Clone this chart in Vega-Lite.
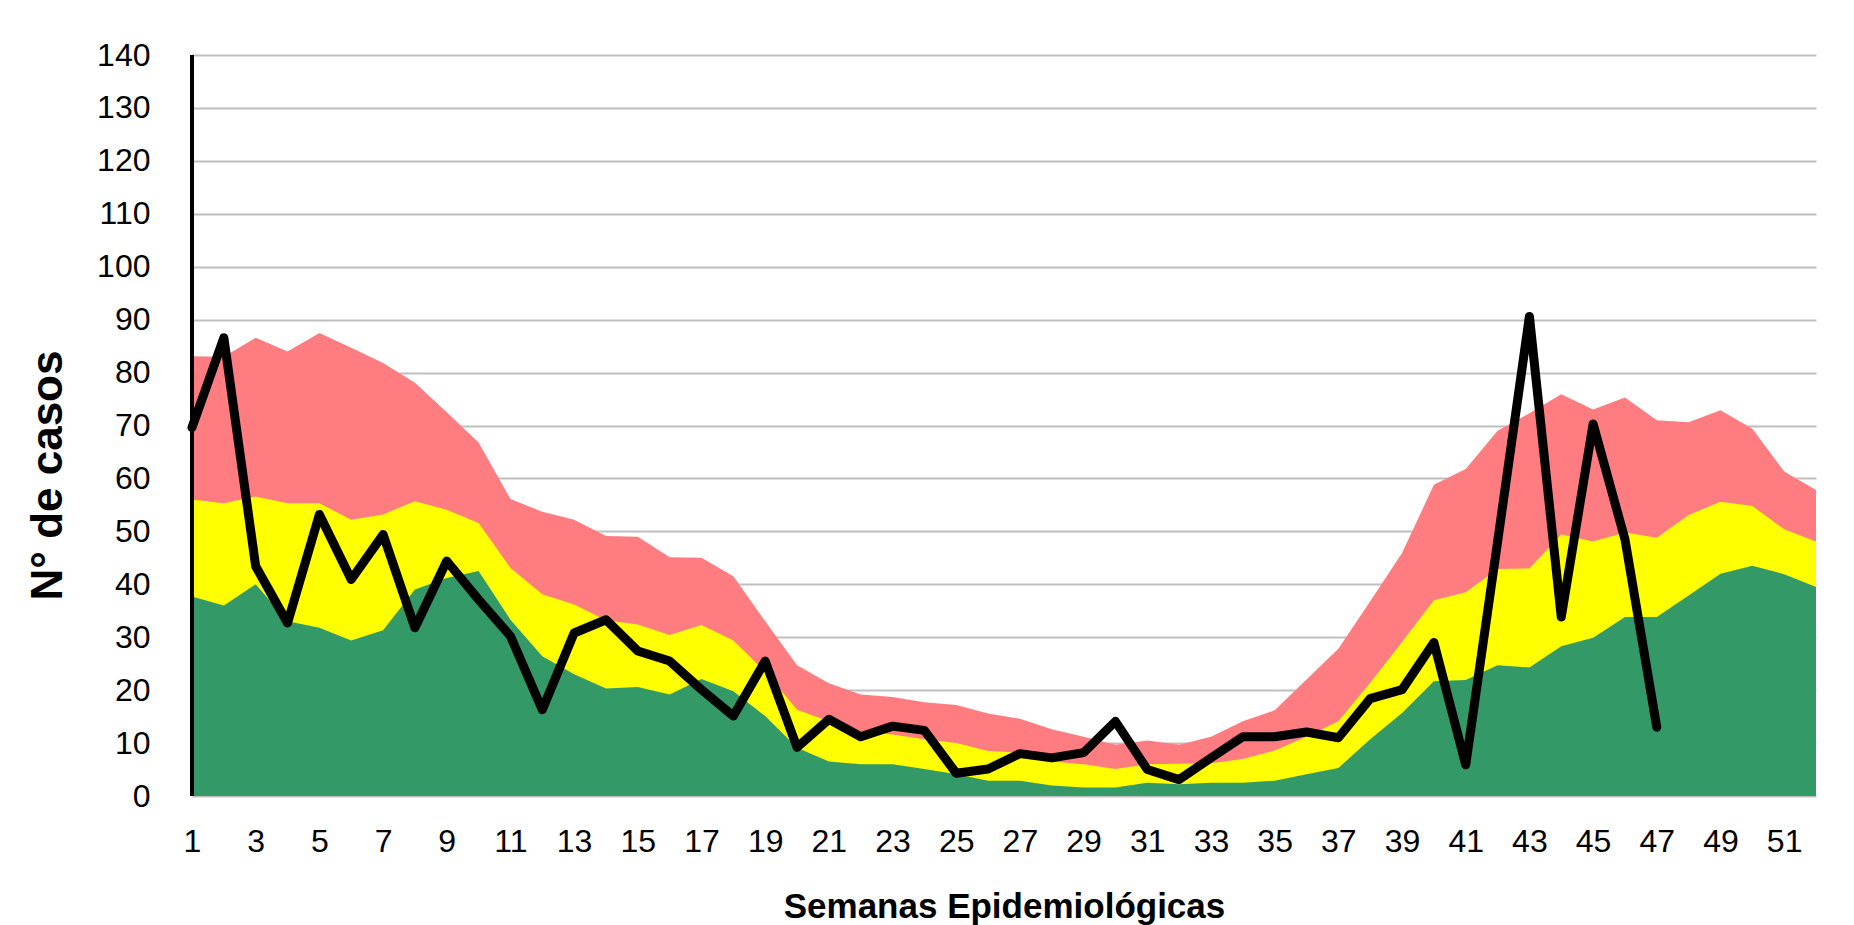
{
  "$schema": "https://vega.github.io/schema/vega-lite/v6.json",
  "width": 1624,
  "height": 741,
  "autosize": {"type": "none"},
  "padding": {"left": 192, "top": 55, "right": 38, "bottom": 129},
  "background": "white",
  "config": {
    "view": {"stroke": null},
    "font": "Liberation Sans",
    "axis": {
      "labelFont": "Liberation Sans",
      "titleFont": "Liberation Sans",
      "labelColor": "black",
      "titleColor": "black",
      "ticks": false,
      "domain": false
    }
  },
  "data": {
    "values": [
      {"semana": 1, "rojo": 83.1, "amarillo": 56.0, "verde": 37.7, "casos": 69.6},
      {"semana": 2, "rojo": 83.0, "amarillo": 55.3, "verde": 36.0, "casos": 86.6},
      {"semana": 3, "rojo": 86.6, "amarillo": 56.6, "verde": 40.0, "casos": 43.4},
      {"semana": 4, "rojo": 84.0, "amarillo": 55.3, "verde": 33.0, "casos": 32.7},
      {"semana": 5, "rojo": 87.5, "amarillo": 55.3, "verde": 31.8, "casos": 53.2},
      {"semana": 6, "rojo": 84.7, "amarillo": 52.2, "verde": 29.4, "casos": 40.9},
      {"semana": 7, "rojo": 81.8, "amarillo": 53.2, "verde": 31.3, "casos": 49.4},
      {"semana": 8, "rojo": 78.1, "amarillo": 55.7, "verde": 39.0, "casos": 31.8},
      {"semana": 9, "rojo": 72.5, "amarillo": 54.1, "verde": 41.2, "casos": 44.4},
      {"semana": 10, "rojo": 66.8, "amarillo": 51.6, "verde": 42.5, "casos": 37.1},
      {"semana": 11, "rojo": 56.1, "amarillo": 43.1, "verde": 33.3, "casos": 30.2},
      {"semana": 12, "rojo": 53.7, "amarillo": 38.1, "verde": 26.4, "casos": 16.3},
      {"semana": 13, "rojo": 52.2, "amarillo": 36.2, "verde": 23.0, "casos": 30.8},
      {"semana": 14, "rojo": 49.1, "amarillo": 33.2, "verde": 20.3, "casos": 33.3},
      {"semana": 15, "rojo": 49.0, "amarillo": 32.4, "verde": 20.6, "casos": 27.4},
      {"semana": 16, "rojo": 45.1, "amarillo": 30.4, "verde": 19.2, "casos": 25.5},
      {"semana": 17, "rojo": 45.0, "amarillo": 32.3, "verde": 22.1, "casos": 20.1},
      {"semana": 18, "rojo": 41.5, "amarillo": 29.4, "verde": 19.8, "casos": 15.1},
      {"semana": 19, "rojo": 33.0, "amarillo": 23.5, "verde": 15.1, "casos": 25.5},
      {"semana": 20, "rojo": 24.7, "amarillo": 16.3, "verde": 9.1, "casos": 9.2},
      {"semana": 21, "rojo": 21.3, "amarillo": 14.1, "verde": 6.5, "casos": 14.5},
      {"semana": 22, "rojo": 19.2, "amarillo": 12.2, "verde": 6.0, "casos": 11.2},
      {"semana": 23, "rojo": 18.7, "amarillo": 11.6, "verde": 6.0, "casos": 13.2},
      {"semana": 24, "rojo": 17.7, "amarillo": 10.7, "verde": 5.1, "casos": 12.4},
      {"semana": 25, "rojo": 17.2, "amarillo": 10.0, "verde": 4.1, "casos": 4.3},
      {"semana": 26, "rojo": 15.6, "amarillo": 8.5, "verde": 2.9, "casos": 5.1},
      {"semana": 27, "rojo": 14.6, "amarillo": 8.2, "verde": 2.9, "casos": 8.0},
      {"semana": 28, "rojo": 12.6, "amarillo": 6.5, "verde": 2.0, "casos": 7.2},
      {"semana": 29, "rojo": 11.2, "amarillo": 6.0, "verde": 1.6, "casos": 8.2},
      {"semana": 30, "rojo": 9.7, "amarillo": 5.1, "verde": 1.6, "casos": 14.1},
      {"semana": 31, "rojo": 10.5, "amarillo": 6.0, "verde": 2.5, "casos": 5.0},
      {"semana": 32, "rojo": 9.7, "amarillo": 6.1, "verde": 2.2, "casos": 3.1},
      {"semana": 33, "rojo": 11.2, "amarillo": 6.2, "verde": 2.5, "casos": 7.2},
      {"semana": 34, "rojo": 14.1, "amarillo": 7.0, "verde": 2.5, "casos": 11.2},
      {"semana": 35, "rojo": 16.2, "amarillo": 8.6, "verde": 2.9, "casos": 11.2},
      {"semana": 36, "rojo": 22.0, "amarillo": 11.2, "verde": 4.1, "casos": 12.1},
      {"semana": 37, "rojo": 27.8, "amarillo": 14.1, "verde": 5.3, "casos": 11.0},
      {"semana": 38, "rojo": 36.8, "amarillo": 21.4, "verde": 10.7, "casos": 18.4},
      {"semana": 39, "rojo": 45.9, "amarillo": 29.1, "verde": 15.7, "casos": 20.1},
      {"semana": 40, "rojo": 58.8, "amarillo": 37.0, "verde": 21.7, "casos": 29.0},
      {"semana": 41, "rojo": 61.8, "amarillo": 38.5, "verde": 21.9, "casos": 5.9},
      {"semana": 42, "rojo": 69.0, "amarillo": 42.9, "verde": 24.7, "casos": 48.0},
      {"semana": 43, "rojo": 72.3, "amarillo": 43.0, "verde": 24.3, "casos": 90.6},
      {"semana": 44, "rojo": 75.9, "amarillo": 49.4, "verde": 28.3, "casos": 33.8},
      {"semana": 45, "rojo": 73.0, "amarillo": 48.1, "verde": 29.9, "casos": 70.3},
      {"semana": 46, "rojo": 75.3, "amarillo": 49.8, "verde": 33.8, "casos": 48.5},
      {"semana": 47, "rojo": 71.0, "amarillo": 48.8, "verde": 33.8, "casos": 13.0},
      {"semana": 48, "rojo": 70.6, "amarillo": 53.1, "verde": 37.9, "casos": null},
      {"semana": 49, "rojo": 72.9, "amarillo": 55.6, "verde": 42.0, "casos": null},
      {"semana": 50, "rojo": 69.4, "amarillo": 54.8, "verde": 43.5, "casos": null},
      {"semana": 51, "rojo": 61.3, "amarillo": 50.4, "verde": 41.9, "casos": null},
      {"semana": 52, "rojo": 57.8, "amarillo": 48.1, "verde": 39.5, "casos": null}
    ]
  },
  "encoding": {
    "x": {
      "field": "semana",
      "type": "quantitative",
      "scale": {"domain": [1, 52], "nice": false, "zero": false},
      "axis": {
        "values": [1, 3, 5, 7, 9, 11, 13, 15, 17, 19, 21, 23, 25, 27, 29, 31, 33, 35, 37, 39, 41, 43, 45, 47, 49, 51],
        "format": "d",
        "grid": false,
        "labelFlush": false,
        "labelFontSize": 32,
        "labelPadding": 30,
        "title": "Semanas Epidemiológicas",
        "titleFontSize": 35,
        "titleFontWeight": "bold",
        "titlePadding": 32
      }
    }
  },
  "layer": [
    {
      "mark": {"type": "area", "color": "#FF7C80"},
      "encoding": {
        "y": {
          "field": "rojo",
          "type": "quantitative",
          "scale": {"domain": [0, 140], "nice": false},
          "title": "N° de casos",
          "axis": {
            "values": [0, 10, 20, 30, 40, 50, 60, 70, 80, 90, 100, 110, 120, 130, 140],
            "grid": true,
            "gridColor": "#BFBFBF",
            "gridWidth": 2,
            "labelFontSize": 32,
            "labelPadding": 42,
            "titleFontSize": 44,
            "titleFontWeight": "bold",
            "titlePadding": 26,
            "titleY": 420
          }
        }
      }
    },
    {
      "mark": {"type": "area", "color": "#FFFF00"},
      "encoding": {"y": {"field": "amarillo", "type": "quantitative", "title": "N° de casos"}}
    },
    {
      "mark": {"type": "area", "color": "#339966"},
      "encoding": {"y": {"field": "verde", "type": "quantitative", "title": "N° de casos"}}
    },
    {
      "transform": [{"filter": "datum.casos != null"}],
      "mark": {"type": "line", "color": "black", "strokeWidth": 9, "strokeCap": "round", "strokeJoin": "round"},
      "encoding": {"y": {"field": "casos", "type": "quantitative", "title": "N° de casos"}}
    },
    {
      "mark": {"type": "rule", "color": "black", "strokeWidth": 3},
      "encoding": {"y": {"datum": 0}}
    },
    {
      "mark": {"type": "rule", "color": "black", "strokeWidth": 2.5},
      "encoding": {"x": {"datum": 1}}
    }
  ]
}
